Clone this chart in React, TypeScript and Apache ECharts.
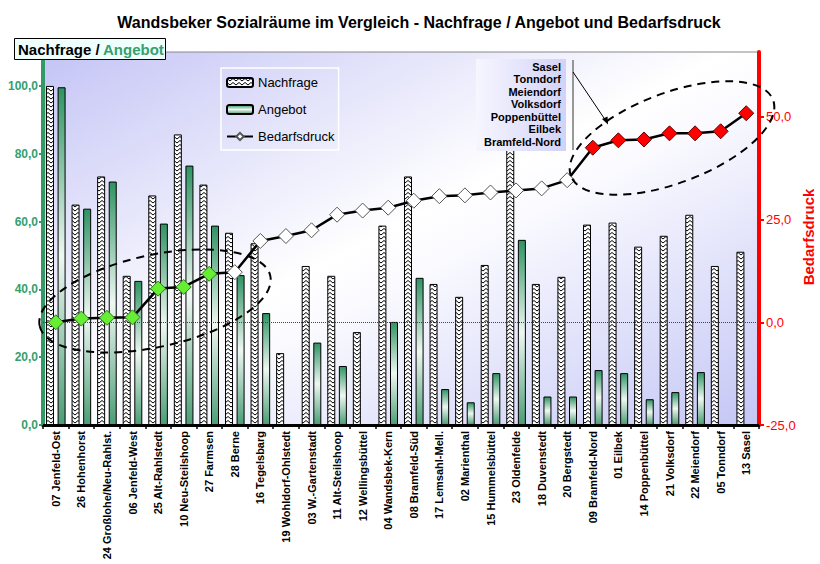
import React, { useEffect, useRef } from 'react';
import * as echarts from 'echarts';

const categories = [
  '07 Jenfeld-Ost', '26 Hohenhorst', '24 Großlohe/Neu-Rahlst.', '06 Jenfeld-West', '25 Alt-Rahlstedt',
  '10 Neu-Steilshoop', '27 Farmsen', '28 Berne', '16 Tegelsbarg', '19 Wohldorf-Ohlstedt',
  '03 W.-Gartenstadt', '11 Alt-Steilshoop', '12 Wellingsbüttel', '04 Wandsbek-Kern', '08 Bramfeld-Süd',
  '17 Lemsahl-Mell.', '02 Marienthal', '15 Hummelsbüttel', '23 Oldenfelde', '18 Duvenstedt',
  '20 Bergstedt', '09 Bramfeld-Nord', '01 Eilbek', '14 Poppenbüttel', '21 Volksdorf',
  '22 Meiendorf', '05 Tonndorf', '13 Sasel',
];

const nachfrage = [
  100.0, 65.0, 73.3, 44.0, 67.7, 85.7, 70.9, 56.7, 53.6, 21.2,
  46.9, 44.0, 27.4, 58.8, 73.3, 41.6, 37.8, 47.2, 82.0, 41.6,
  43.7, 59.1, 59.7, 52.6, 55.8, 62.0, 46.9, 51.1,
];

const angebot = [
  99.6, 63.8, 71.8, 42.5, 59.4, 76.5, 58.8, 44.2, 33.0, null,
  24.3, 17.4, null, 30.4, 43.4, 10.6, 6.7, 15.3, 54.6, 8.4,
  8.4, 16.2, 15.3, 7.6, 9.7, 15.6, null, null,
];

const bedarfsdruck = [
  0.0, 0.9, 1.1, 1.2, 8.2, 8.6, 11.8, 12.2, 19.8, 21.0,
  22.4, 26.2, 27.2, 27.9, 29.6, 30.7, 30.9, 31.6, 32.1, 32.6,
  34.6, 42.5, 44.3, 44.5, 46.0, 46.0, 46.5, 50.9,
];

const leftTicks = [0, 20, 40, 60, 80, 100];
const rightTicks = [-25, 0, 25, 50];

const lowGroup = ['07 Jenfeld-Ost', '26 Hohenhorst', '24 Großlohe/Neu-Rahlst.', '06 Jenfeld-West', '25 Alt-Rahlstedt', '10 Neu-Steilshoop', '27 Farmsen'];
const highGroup = ['Sasel', 'Tonndorf', 'Meiendorf', 'Volksdorf', 'Poppenbüttel', 'Eilbek', 'Bramfeld-Nord'];

const FONT = '"Liberation Sans", Arial, sans-serif';
const fmt = (v: number) => v.toFixed(1).replace('.', ',');

function makeHatch() {
  const c = document.createElement('canvas');
  c.width = 6;
  c.height = 4;
  const ctx = c.getContext('2d')!;
  ctx.fillStyle = '#ffffff';
  ctx.fillRect(0, 0, 6, 4);
  ctx.strokeStyle = '#000000';
  ctx.lineWidth = 1;
  ctx.beginPath();
  ctx.moveTo(0, 0.5);
  ctx.lineTo(3, 3);
  ctx.lineTo(6, 0.5);
  ctx.stroke();
  return c;
}

export default function App() {
  const ref = useRef<HTMLDivElement>(null);

  useEffect(() => {
    if (!ref.current) return;
    const chart = echarts.init(ref.current, null, { renderer: 'svg' });

    const hatch = makeHatch();
    const hatchFill: any = { image: hatch, repeat: 'repeat', imageWidth: 6, imageHeight: 4 };

    const greenGrad = new echarts.graphic.LinearGradient(0, 0, 0, 1, [
      { offset: 0, color: '#2f9363' },
      { offset: 0.5, color: '#eef8f2' },
      { offset: 1, color: '#4c9d75' },
    ]);

    const lineData = bedarfsdruck.map((v, i) => {
      const name = categories[i];
      const short = name.replace(/^\d+\s/, '');
      let color = '#ffffff';
      let border = '#555555';
      if (lowGroup.includes(name)) {
        color = '#66ee33';
        border = '#2f7a1e';
      } else if (highGroup.includes(short)) {
        color = '#ff0000';
        border = '#600000';
      }
      return { value: v, itemStyle: { color, borderColor: border, borderWidth: 1 } };
    });

    const plotBg = new echarts.graphic.LinearGradient(0, 0, 1, 1, [
      { offset: 0, color: '#c4c4f6' },
      { offset: 0.48, color: '#ffffff' },
      { offset: 0.55, color: '#fbfbff' },
      { offset: 1, color: '#c4c6f5' },
    ]);

    const boxGrad = new echarts.graphic.LinearGradient(0, 0, 1, 0, [
      { offset: 0, color: '#f6f6ff' },
      { offset: 1, color: '#d2d2f8' },
    ]);

    chart.setOption({
      animation: false,
      textStyle: { fontFamily: FONT },
      grid: {
        left: 43,
        right: 61,
        top: 52,
        bottom: 139,
        show: true,
        backgroundColor: plotBg,
        borderColor: '#888888',
        borderWidth: 1,
      },
      legend: {
        orient: 'vertical',
        left: 221,
        top: 68,
        padding: [8, 4, 7, 5],
        itemGap: 14,
        itemWidth: 26,
        itemHeight: 9,
        borderColor: '#ffffff',
        borderWidth: 1.5,
        textStyle: { fontSize: 13, color: '#000', fontFamily: FONT },
        data: ['Nachfrage', 'Angebot', 'Bedarfsdruck'],
      },
      xAxis: {
        type: 'category',
        data: categories,
        axisLine: { lineStyle: { color: '#000', width: 3 } },
        axisTick: { show: true, length: 4, lineStyle: { color: '#000', width: 1.5 } },
        axisLabel: {
          interval: 0,
          rotate: 90,
          margin: 6,
          fontSize: 11,
          fontWeight: 'bold',
          color: '#000',
          fontFamily: FONT,
        },
      },
      yAxis: [
        {
          type: 'value',
          min: 0,
          max: 110,
          interval: 20,
          position: 'left',
          splitLine: { show: false },
          axisLine: { show: true, lineStyle: { color: '#339966', width: 4 } },
          axisTick: { show: true, length: 4, customValues: leftTicks, lineStyle: { color: '#339966', width: 2 } },
          axisLabel: {
            customValues: leftTicks,
            formatter: (v: number) => fmt(v),
            color: '#35a06e',
            fontWeight: 'bold',
            fontSize: 12,
            margin: 5,
            fontFamily: FONT,
          },
        },
        {
          type: 'value',
          min: -25,
          max: 65.8,
          interval: 25,
          position: 'right',
          splitLine: { show: false },
          axisLine: { show: true, lineStyle: { color: '#ff0000', width: 4 } },
          axisTick: { show: true, length: 5, customValues: rightTicks, lineStyle: { color: '#ff0000', width: 2 } },
          axisLabel: {
            customValues: rightTicks,
            formatter: (v: number) => fmt(v),
            color: '#ff0000',
            fontSize: 13,
            margin: 7,
            fontFamily: FONT,
          },
        },
      ],
      series: [
        {
          name: 'zero',
          type: 'line',
          yAxisIndex: 1,
          data: [],
          z: 1,
          silent: true,
          markLine: {
            silent: true,
            symbol: 'none',
            label: { show: false },
            lineStyle: { type: 'dotted', color: '#444', width: 1 },
            data: [{ yAxis: 0 }],
          },
        },
        {
          name: 'Nachfrage',
          type: 'bar',
          yAxisIndex: 0,
          data: nachfrage,
          barWidth: 8,
          barGap: '45%',
          itemStyle: { color: hatchFill, borderColor: '#000', borderWidth: 1 },
          z: 2,
        },
        {
          name: 'Angebot',
          type: 'bar',
          yAxisIndex: 0,
          data: angebot,
          barWidth: 8,
          itemStyle: { color: greenGrad, borderColor: '#000', borderWidth: 1 },
          z: 2,
        },
        {
          name: 'Bedarfsdruck',
          type: 'line',
          yAxisIndex: 1,
          data: lineData,
          symbol: 'diamond',
          symbolSize: 15,
          showAllSymbol: true,
          itemStyle: { color: '#ffffff', borderColor: '#555', borderWidth: 1 },
          lineStyle: { color: '#000', width: 2.5 },
          z: 5,
        },
      ],
      graphic: [
        {
          type: 'text',
          x: 419,
          y: 22,
          style: {
            text: 'Wandsbeker Sozialräume im Vergleich - Nachfrage / Angebot und Bedarfsdruck',
            font: `bold 16px ${FONT}`,
            fill: '#000',
            align: 'center',
            verticalAlign: 'middle',
          },
        },
        {
          type: 'rect',
          shape: { x: 14.5, y: 38.5, width: 151, height: 21 },
          style: { fill: '#effffc', stroke: '#000', lineWidth: 1 },
          z: 50,
        },
        {
          type: 'text',
          x: 18,
          y: 49,
          z: 51,
          style: {
            text: '{a|Nachfrage /} {b|Angebot}',
            verticalAlign: 'middle',
            rich: {
              a: { font: `bold 15px ${FONT}`, fill: '#000' },
              b: { font: `bold 15px ${FONT}`, fill: '#35a06e' },
            },
          },
        },
        {
          type: 'text',
          x: 808,
          y: 237,
          rotation: Math.PI / 2,
          style: {
            text: 'Bedarfsdruck',
            font: `bold 15px ${FONT}`,
            fill: '#ff0000',
            align: 'center',
            verticalAlign: 'middle',
          },
        },
        {
          type: 'rect',
          shape: { x: 476, y: 59, width: 90, height: 92 },
          style: { fill: boxGrad },
          z: 40,
        },
        {
          type: 'text',
          x: 561,
          y: 60.5,
          z: 41,
          style: {
            text: highGroup.join('\n'),
            font: `bold 11px ${FONT}`,
            lineHeight: 12.5,
            fill: '#000',
            align: 'right',
            verticalAlign: 'top',
          },
        },
        {
          type: 'line',
          shape: { x1: 573, y1: 60, x2: 573, y2: 150 },
          style: { stroke: '#777', lineWidth: 1.5 },
          z: 41,
        },
        {
          type: 'line',
          shape: { x1: 573, y1: 72, x2: 606, y2: 121 },
          style: { stroke: '#000', lineWidth: 1 },
          z: 41,
        },
        {
          type: 'polygon',
          shape: { points: [[608, 124.5], [602, 119], [607.5, 116.5]] },
          style: { fill: '#000' },
          z: 41,
        },
        {
          type: 'ellipse',
          x: 155,
          y: 301,
          rotation: 0.215,
          shape: { cx: 0, cy: 0, rx: 118, ry: 46 },
          style: { fill: 'none', stroke: '#000', lineWidth: 2, lineDash: [8, 6] },
          z: 60,
          silent: true,
        },
        {
          type: 'ellipse',
          x: 672,
          y: 138,
          rotation: 0.36,
          shape: { cx: 0, cy: 0, rx: 108, ry: 45 },
          style: { fill: 'none', stroke: '#000', lineWidth: 2, lineDash: [8, 6] },
          z: 60,
          silent: true,
        },
      ],
    });

    return () => chart.dispose();
  }, []);

  return (
    <div
      ref={ref}
      style={{ position: 'fixed', left: 0, top: 0, width: 820, height: 564, background: '#fff' }}
    />
  );
}
